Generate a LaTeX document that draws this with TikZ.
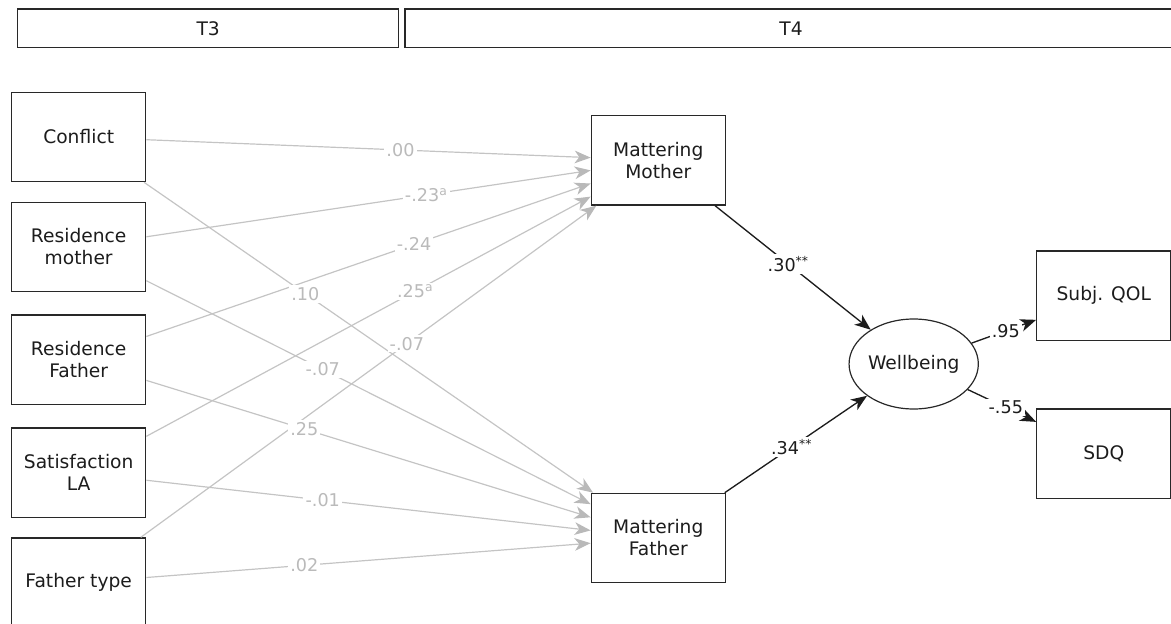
\documentclass[tikz,border=0pt]{standalone}
\usepackage{fontspec}
\setmainfont{DejaVu Sans}
\usetikzlibrary{arrows.meta,shapes.geometric}
\definecolor{edgegray}{RGB}{196,196,196}
\definecolor{tipgray}{RGB}{185,185,185}
\definecolor{labgray}{RGB}{186,186,186}
\definecolor{boxline}{RGB}{40,40,40}
\definecolor{txt}{RGB}{28,28,28}
\begin{document}
\begin{tikzpicture}[x=0.75pt,y=-0.75pt,
  nodefont/.style={font=\fontsize{14pt}{16.5pt}\selectfont, text=txt},
  box/.style={draw=boxline, line width=1pt, minimum width=100.5pt, minimum height=67pt, inner sep=0pt, align=center, nodefont},
  hdr/.style={draw=boxline, line width=1pt, minimum height=29pt, inner sep=0pt, nodefont},
  latent/.style={ellipse, draw=boxline, line width=0.9pt, minimum width=85.5pt, minimum height=67.5pt, inner sep=0pt, nodefont},
  gedge/.style={draw=edgegray, line width=0.9pt, -{Stealth[length=12pt,width=9.5pt,inset=3.5pt,color=tipgray]}},
  bedge/.style={draw=txt, line width=1pt, -{Stealth[length=12pt,width=9.5pt,inset=3.5pt]}},
  glab/.style={fill=white, inner sep=1.6pt, text=labgray, font=\fontsize{13.2pt}{15pt}\selectfont},
  blab/.style={fill=white, inner sep=1.6pt, text=txt, font=\fontsize{13.2pt}{15pt}\selectfont},
]
\useasboundingbox (0,0) rectangle (1171,624);
\clip (0,0) rectangle (1171,624);

% headers
\node[hdr, minimum width=285.75pt] (t3) at (208.2,28.35) {T3};
\node[hdr, minimum width=579pt] (t4) at (791,28.35) {T4};

% exogenous boxes
\node[box] (conflict) at (78.7,137) {Conflict};
\node[box] (resmother) at (78.7,246.85) {Residence\\mother};
\node[box] (resfather) at (78.7,359.65) {Residence\\Father};
\node[box] (satla) at (78.7,472.65) {Satisfaction\\LA};
\node[box] (ftype) at (78.7,582.7) {Father type};

% mediators
\node[box] (mm) at (658.3,160.35) {Mattering\\Mother};
\node[box] (mf) at (658.3,538) {Mattering\\Father};

% latent and indicators
\node[latent] (wb) at (913.7,364) {Wellbeing};
\node[box] (qol) at (1103.8,295.5) {Subj. QOL};
\node[box] (sdq) at (1103.8,453.8) {SDQ};

% gray paths to Mattering Mother
\draw[gedge] (conflict) -- coordinate[pos=0.572] (l1) (mm);
\draw[gedge] (resmother) -- coordinate[pos=0.63] (l2) (mm);
\draw[gedge] (resfather) -- coordinate[pos=0.6025] (l3) (mm);
\draw[gedge] (satla) -- coordinate[pos=0.605] (l4) (mm);
\draw[gedge] (ftype) -- coordinate[pos=0.584] (l5) (mm);
% gray paths to Mattering Father
\draw[gedge] (conflict) -- coordinate[pos=0.359] (l6) (mf);
\draw[gedge] (resmother) -- coordinate[pos=0.397] (l7) (mf);
\draw[gedge] (resfather) -- coordinate[pos=0.3555] (l8) (mf);
\draw[gedge] (satla) -- coordinate[pos=0.397] (l9) (mf);
\draw[gedge] (ftype) -- coordinate[pos=0.3555] (l10) (mf);

% black paths
\draw[bedge] (mm) -- coordinate[pos=0.47] (l11) (wb);
\draw[bedge] (mf) -- coordinate[pos=0.47] (l12) (wb);
\draw[bedge] (wb) -- coordinate[pos=0.53] (l13) (qol);
\draw[bedge] (wb) -- coordinate[pos=0.556] (l14) (sdq);

% labels on top
\node[glab] at (l1) {.00};
\node[glab] at (l2) {-.23\textsuperscript{a}};
\node[glab] at (l3) {-.24};
\node[glab] at (l4) {.25\textsuperscript{a}};
\node[glab] at (l5) {-.07};
\node[glab] at (l6) {.10};
\node[glab] at (l7) {-.07};
\node[glab] at (l8) {.25};
\node[glab] at (l9) {-.01};
\node[glab] at (l10) {.02};
\node[blab] at (l11) {.30\textsuperscript{**}};
\node[blab] at (l12) {.34\textsuperscript{**}};
\node[blab] at (l13) {.95};
\node[blab] at (l14) {-.55};
\end{tikzpicture}
\end{document}
